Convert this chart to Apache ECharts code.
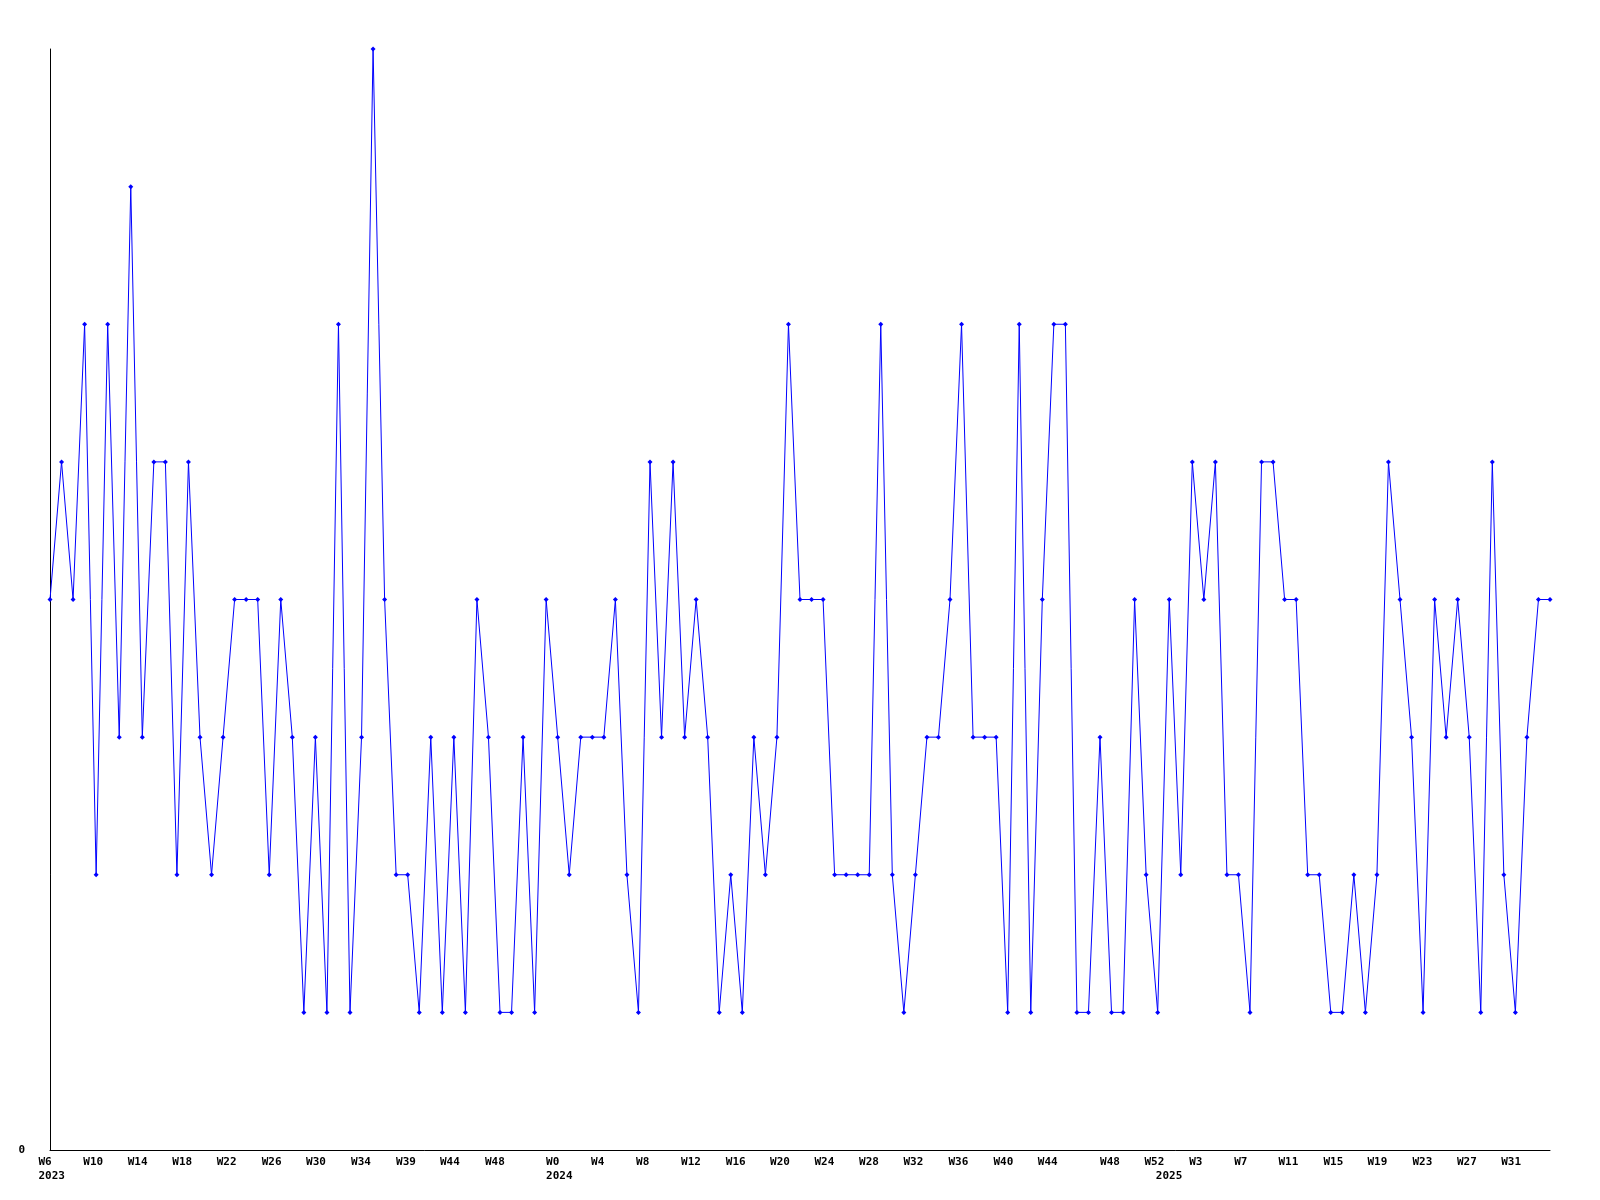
<!DOCTYPE html>
<html>
<head>
<meta charset="utf-8">
<script src="https://cdn.jsdelivr.net/npm/echarts@6/dist/echarts.min.js"></script>
<style>html,body{margin:0;padding:0;background:#fff}#c{width:1600px;height:1200px}</style>
</head>
<body>
<div id="c"></div>
<script>
// Weekly counts, one per week starting at W6 2023
const values = [
  4,5,4,6,2,6,3,7,3,5,5,2,5,3,2,3,4,4,4,2,4,3,
  1,3,1,6,1,3,8,4,2,2,1,3,1,3,1,4,3,1,1,3,1,4,
  3,2,3,3,3,4,2,1,5,3,5,3,4,3,1,2,1,3,2,3,6,4,
  4,4,2,2,2,2,6,2,1,2,3,3,4,6,3,3,3,1,6,1,4,
  6,6,1,1,3,1,1,4,2,1,4,2,5,4,5,2,2,1,5,5,4,4,
  2,2,1,1,2,1,2,5,4,3,1,4,3,4,3,1,5,2,1,3,4,
  4
];
// Week tick labels and where they fall on the week scale (in weeks from the first point)
const tickLabels = ['W6','W10','W14','W18','W22','W26','W30','W34','W39','W44','W48',
  'W0','W4','W8','W12','W16','W20','W24','W28','W32','W36','W40','W44','W48','W52',
  'W3','W7','W11','W15','W19','W23','W27','W31'];
const tickPos = [-1.0,2.89,6.73,10.6,14.45,18.35,22.19,26.09,29.99,33.8,37.7,
  42.99,46.89,50.79,54.69,58.57,62.41,66.25,70.12,73.96,77.86,81.76,85.61,91.01,94.85,
  98.73,102.63,106.47,110.37,114.18,118.08,121.93,125.77];
const yearLabels = ['2023','2024','2025'];
const yearPos = [-1.0, 42.99, 95.84];

const chart = echarts.init(document.getElementById('c'), null, {renderer:'canvas'});
const n = values.length;
const seriesData = values.map((v,i) => [i,v]);
const FONT = 'DejaVu Sans Mono';
const xMin1 = -12/(1500/(n-1));

chart.setOption({
  animation: false,
  backgroundColor: '#ffffff',
  grid: [
    {left: 50, right: 50, top: 49, bottom: 50},
    {left: 38, right: 50, top: 49, bottom: 50}
  ],
  xAxis: [
    {type:'value', gridIndex:0, position:'bottom', min:0, max:n-1,
      axisLine:{show:true, onZero:false, lineStyle:{color:'#000', width:1}},
      axisTick:{show:false}, axisLabel:{show:false}, splitLine:{show:false}},
    {type:'value', gridIndex:1, position:'bottom', min:xMin1, max:n-1,
      axisLine:{show:false, onZero:false}, axisTick:{show:false}, splitLine:{show:false},
      axisLabel:{show:true, customValues: tickPos, align:'left', margin:7,
        fontFamily:FONT, fontWeight:'bold', fontSize:11, color:'#000',
        formatter: v => { const k = tickPos.indexOf(v); return k >= 0 ? tickLabels[k] : ''; }}},
    {type:'value', gridIndex:1, position:'bottom', offset:0, min:xMin1, max:n-1,
      axisLine:{show:false, onZero:false}, axisTick:{show:false}, splitLine:{show:false},
      axisLabel:{show:true, customValues: yearPos, align:'left', margin:21,
        fontFamily:FONT, fontWeight:'bold', fontSize:11, color:'#000',
        formatter: v => { const k = yearPos.indexOf(v); return k >= 0 ? yearLabels[k] : ''; }}}
  ],
  yAxis: [
    {type:'value', gridIndex:0, min:0, max:8, interval:1,
      axisLine:{show:true, onZero:false, lineStyle:{color:'#000', width:1}},
      axisTick:{show:false}, splitLine:{show:false},
      axisLabel:{show:true, margin:25, fontFamily:FONT, fontWeight:'bold', fontSize:11, color:'#000',
        formatter: v => v === 0 ? '0' : ''}},
    {type:'value', gridIndex:1, min:0, max:8, show:false}
  ],
  series: [{
    type:'line', xAxisIndex:0, yAxisIndex:0,
    data: seriesData,
    symbol:'diamond', symbolSize:5, showAllSymbol:true,
    lineStyle:{color:'#0000ff', width:1},
    itemStyle:{color:'#0000ff'},
    clip:true
  }]
});
</script>
</body>
</html>
